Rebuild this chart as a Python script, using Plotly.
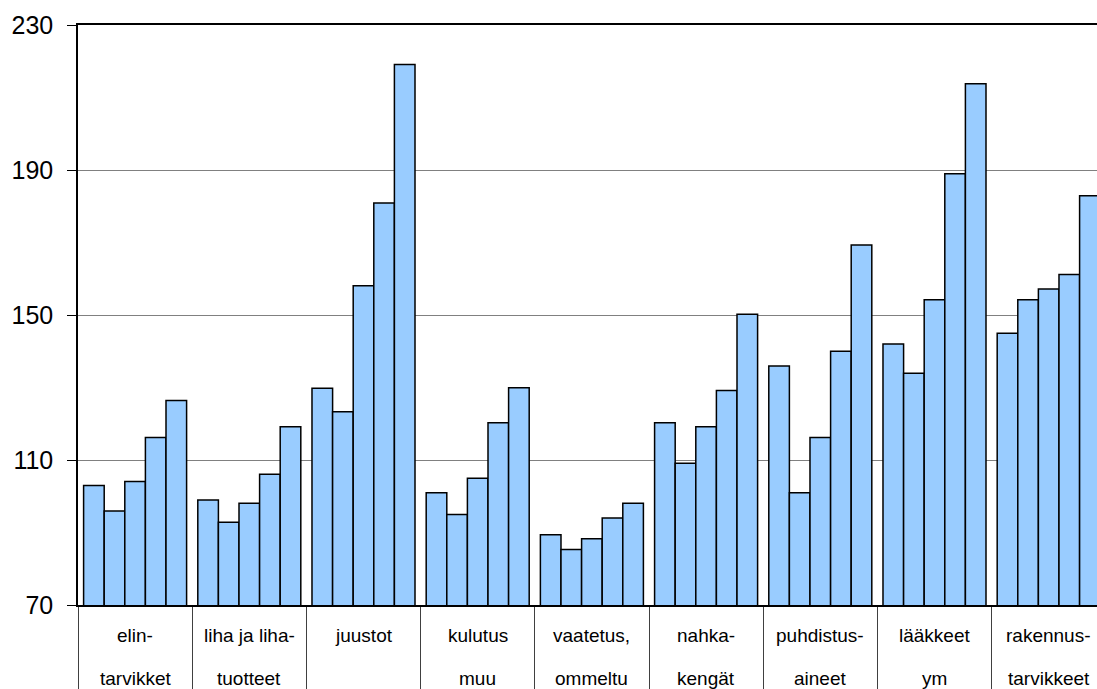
import plotly.graph_objects as go

categories = ["elintarvikket", "liha ja lihatuotteet", "juustot", "kulutus muu",
              "vaatetus, ommeltu", "nahkakengät", "puhdistusaineet", "lääkkeet ym",
              "rakennustarvikkeet"]
label_line1 = ["elin-", "liha ja liha-", "juustot", "kulutus", "vaatetus,",
               "nahka-", "puhdistus-", "lääkkeet", "rakennus-"]
label_line2 = ["tarvikket", "tuotteet", "", "muu", "ommeltu",
               "kengät", "aineet", "ym", "tarvikkeet"]

series1 = [103.0, 99.0, 129.8, 101.0, 89.4, 120.3, 135.9, 142.0, 145.0]
series2 = [95.9, 92.8, 123.3, 95.0, 85.3, 109.1, 101.0, 133.9, 154.2]
series3 = [104.1, 98.1, 158.1, 105.0, 88.3, 119.2, 116.2, 154.2, 157.2]
series4 = [116.2, 106.1, 180.9, 120.3, 94.0, 129.2, 140.0, 189.0, 161.2]
series5 = [126.4, 119.2, 219.1, 129.9, 98.1, 150.2, 169.3, 213.8, 182.9]

y_ticks = [70, 110, 150, 190, 230]

fig = go.Figure()
for s in [series1, series2, series3, series4, series5]:
    fig.add_trace(go.Bar(
        x=categories, y=s,
        marker=dict(color="#99CCFF", line=dict(color="black", width=1.5)),
        showlegend=False,
    ))

for c, l1, l2 in zip(categories, label_line1, label_line2):
    fig.add_annotation(x=c, y=0, xref="x", yref="paper", text=l1, showarrow=False,
                       yanchor="middle", yshift=-30,
                       font=dict(family="Liberation Sans, Arial", size=19, color="black"))
    if l2:
        fig.add_annotation(x=c, y=0, xref="x", yref="paper", text=l2, showarrow=False,
                           yanchor="middle", yshift=-73,
                           font=dict(family="Liberation Sans, Arial", size=19, color="black"))

fig.update_layout(
    width=1097, height=689,
    margin=dict(l=78, r=0, t=25, b=84, autoexpand=False),
    paper_bgcolor="white", plot_bgcolor="white",
    barmode="group", bargap=0.098, bargroupgap=0,
    font=dict(family="Liberation Sans, Arial", color="black"),
)
fig.update_xaxes(
    type="category", range=[-0.5, 8.423], automargin=False,
    showline=True, linecolor="black", linewidth=1.5, mirror=True,
    showticklabels=False, ticks="outside", tickson="boundaries",
    ticklen=90, tickwidth=1, tickcolor="#404040",
    showgrid=False,
)
fig.update_yaxes(
    range=[70, 230], tickvals=y_ticks, ticktext=[str(v) for v in y_ticks],
    automargin=False,
    showline=True, linecolor="black", linewidth=1.5,
    ticks="outside", ticklen=9, tickwidth=1, tickcolor="black",
    showgrid=True, gridcolor="#808080", gridwidth=1,
    tickfont=dict(size=25, family="Liberation Sans, Arial", color="black"),
    ticklabelstandoff=9, zeroline=False,
)

fig.write_html(
    "out.html",
    config={"displayModeBar": False},
    post_script="document.body.style.margin='0';document.body.style.overflow='hidden';",
)
